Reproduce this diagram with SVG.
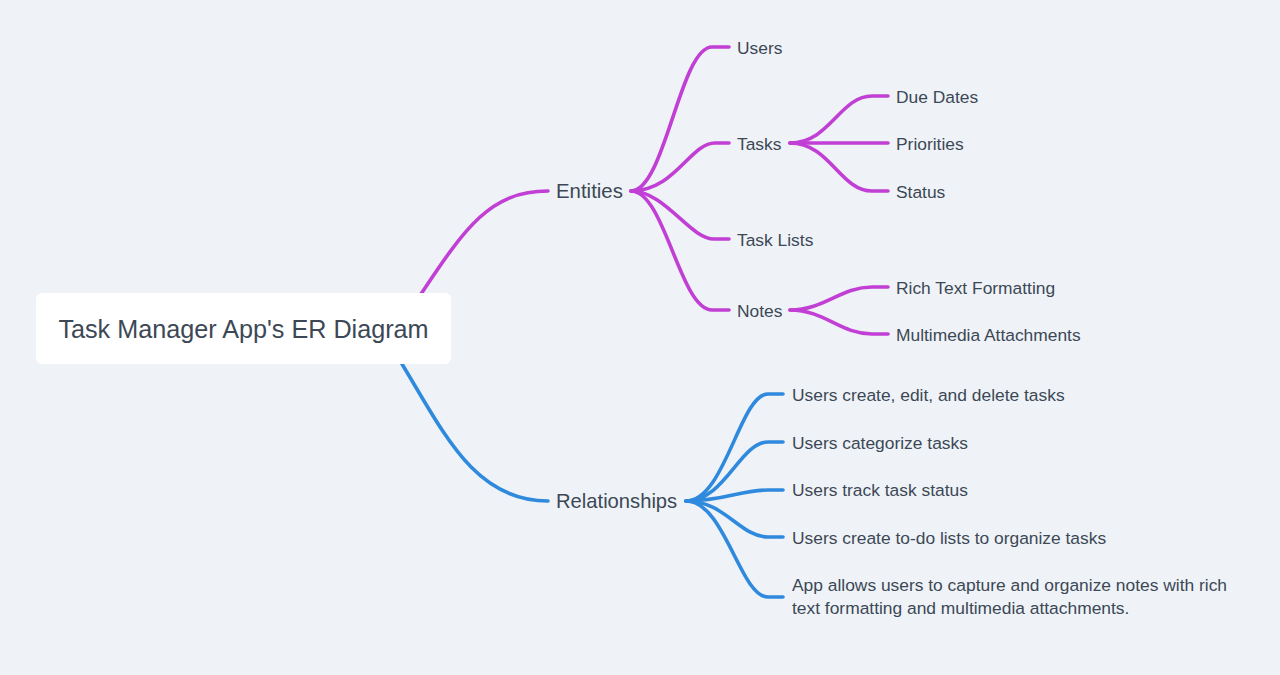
<svg xmlns="http://www.w3.org/2000/svg" width="1280" height="675" viewBox="0 0 1280 675">
<style>
.t{font-family:"Liberation Sans",Arial,sans-serif;fill:#3c4856;}
.c{font-size:17.4px;}
.m{font-size:20.4px;}
.p{fill:none;stroke:#c13fd4;stroke-width:3.6;stroke-linecap:round;}
.b{fill:none;stroke:#2f89dd;stroke-width:3.6;stroke-linecap:round;}
</style>
<rect width="1280" height="675" fill="#eff3f7"/>
<g id="connectors">
<path class="p" d="M421,294 C465,228 490,191 548,191"/>
<path class="b" d="M402,364 C445,435 475,501 548,501"/>
<path class="p" d="M631,191 C665,191 680,47 712,47 L729,47"/>
<path class="p" d="M631,191 C675,191 690,143 715,143 L729,143"/>
<path class="p" d="M631,191 C665,191 690,239 714,239 L729,239"/>
<path class="p" d="M631,191 C665,191 680,310 712,310 L729,310"/>
<path class="p" d="M790,143 C830,143 840,96 872,96 L888,96"/>
<path class="p" d="M790,143 L888,143"/>
<path class="p" d="M790,143 C830,143 840,191 872,191 L888,191"/>
<path class="p" d="M790,310 C825,310 840,287 872,287 L888,287"/>
<path class="p" d="M790,310 C825,310 840,334 872,334 L888,334"/>
<path class="b" d="M686,501 C725,501 740,394 768,394 L783,394"/>
<path class="b" d="M686,501 C725,501 740,442 768,442 L783,442"/>
<path class="b" d="M686,501 C725,501 740,490 768,490 L783,490"/>
<path class="b" d="M686,501 C725,501 740,537 768,537 L783,537"/>
<path class="b" d="M686,501 C725,501 740,597 768,597 L783,597"/>
</g>
<g id="root">
<rect x="36" y="293" width="415" height="71" rx="6" fill="#ffffff"/>
<text class="t" x="243.5" y="338" font-size="25.2" text-anchor="middle">Task Manager App's ER Diagram</text>
</g>
<g id="entities"><text class="t m" x="556" y="197.5">Entities</text></g>
<g id="users"><text class="t c" x="737" y="53.5">Users</text></g>
<g id="tasks"><text class="t c" x="737" y="149.5">Tasks</text></g>
<g id="due-dates"><text class="t c" x="896" y="102.5">Due Dates</text></g>
<g id="priorities"><text class="t c" x="896" y="149.5">Priorities</text></g>
<g id="status"><text class="t c" x="896" y="197.5">Status</text></g>
<g id="task-lists"><text class="t c" x="737" y="245.5">Task Lists</text></g>
<g id="notes"><text class="t c" x="737" y="316.5">Notes</text></g>
<g id="rich-text"><text class="t c" x="896" y="293.5">Rich Text Formatting</text></g>
<g id="multimedia"><text class="t c" x="896" y="340.5">Multimedia Attachments</text></g>
<g id="relationships"><text class="t" x="556" y="507.5" font-size="20.2">Relationships</text></g>
<g id="rel-1"><text class="t c" x="792" y="400.5">Users create, edit, and delete tasks</text></g>
<g id="rel-2"><text class="t c" x="792" y="448.5">Users categorize tasks</text></g>
<g id="rel-3"><text class="t c" x="792" y="495.5">Users track task status</text></g>
<g id="rel-4"><text class="t c" x="792" y="543.5">Users create to-do lists to organize tasks</text></g>
<g id="rel-5"><text class="t c" x="792" y="590.5">App allows users to capture and organize notes with rich<tspan x="792" y="613.5">text formatting and multimedia attachments.</tspan></text></g>
</svg>
